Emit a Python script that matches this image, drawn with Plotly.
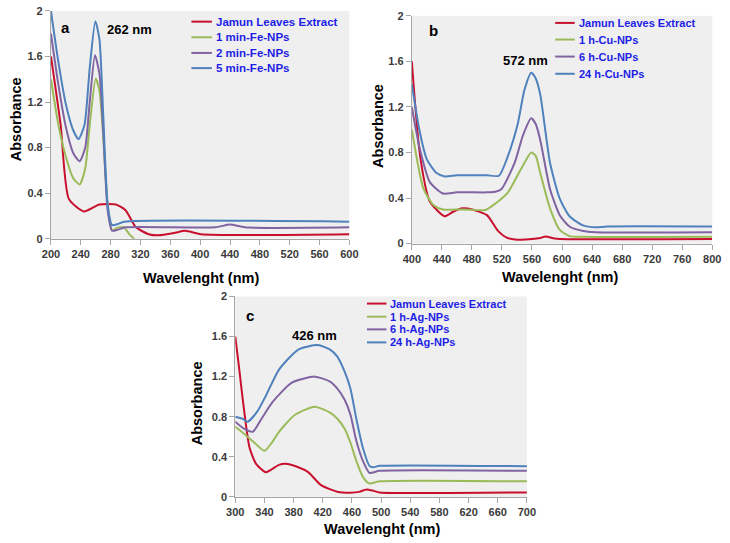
import plotly.graph_objects as go

# ---------------- data ----------------
# Panel a (Fe-NPs)
a_ext_x = [200, 213, 224, 244, 265, 287, 300, 314, 331, 344, 365, 380, 401, 600]
a_ext_y = [1.6, 1.0, 0.35, 0.24, 0.3, 0.3, 0.25, 0.1, 0.04, 0.03, 0.05, 0.07, 0.04, 0.04]
a_1_x = [200, 210, 220, 230, 238.5, 246, 252, 260, 265, 270, 276, 282, 290, 298, 305, 311, 320, 600]
a_1_y = [1.4, 1.0, 0.72, 0.53, 0.477, 0.62, 1.0, 1.406, 1.3, 0.9, 0.3, 0.074, 0.1, 0.1, 0.04, 0.0, -0.1, -0.1]
a_2_x = [200, 210, 220, 230, 238.5, 246, 252, 259, 265, 270, 276, 282, 290, 300, 420, 440, 460, 600]
a_2_y = [1.8, 1.35, 0.98, 0.75, 0.68, 0.8, 1.2, 1.61, 1.45, 0.95, 0.25, 0.07, 0.08, 0.1, 0.1, 0.125, 0.1, 0.1]
a_5_x = [200, 210, 220, 230, 237, 245, 252, 259.5, 265, 270, 276, 282, 290, 298, 600]
a_5_y = [2.0, 1.55, 1.18, 0.95, 0.875, 1.0, 1.5, 1.91, 1.75, 1.1, 0.3, 0.12, 0.13, 0.15, 0.15]

# Panel b (Cu-NPs)
b_ext_x = [400, 411, 424, 443.7, 455, 467.5, 480.5, 500, 515, 527, 537, 545, 560, 571, 578, 590, 597, 800]
b_ext_y = [1.6, 0.77, 0.37, 0.24, 0.28, 0.31, 0.30, 0.25, 0.11, 0.05, 0.037, 0.034, 0.04, 0.05, 0.063, 0.045, 0.04, 0.04]
b_1_x = [400, 408, 415.6, 428.6, 441.6, 470, 498, 511, 528, 545, 559, 565, 571, 584, 597, 610, 625, 800]
b_1_y = [1.0, 0.7, 0.48, 0.34, 0.30, 0.3, 0.295, 0.35, 0.45, 0.65, 0.80, 0.77, 0.62, 0.31, 0.12, 0.066, 0.06, 0.06]
b_6_x = [400, 410, 424, 441.6, 460, 500, 511, 519.5, 537, 548, 559, 565, 571, 584, 597, 610, 628, 645, 800]
b_6_y = [1.2, 0.85, 0.54, 0.44, 0.45, 0.45, 0.455, 0.48, 0.71, 0.95, 1.10, 1.05, 0.91, 0.48, 0.25, 0.15, 0.11, 0.1, 0.1]
b_24_x = [400, 410, 420, 433, 444, 460, 480, 500, 516, 528, 541, 550, 559, 565, 571, 584, 597, 610, 628, 645, 660, 800]
b_24_y = [1.4, 1.0, 0.74, 0.62, 0.59, 0.6, 0.6, 0.6, 0.596, 0.77, 1.05, 1.35, 1.5, 1.45, 1.31, 0.71, 0.395, 0.24, 0.16, 0.143, 0.15, 0.15]

# Panel c (Ag-NPs)
c_ext_x = [300, 306, 310.7, 319.6, 328.5, 342, 360, 368.7, 386.5, 400, 417.7, 440, 458, 470, 480, 490, 498, 700]
c_ext_y = [1.6, 1.24, 0.946, 0.49, 0.33, 0.247, 0.32, 0.33, 0.296, 0.247, 0.117, 0.052, 0.042, 0.05, 0.075, 0.06, 0.045, 0.045]
c_1_x = [300, 312, 324, 340, 350, 360, 382, 409, 430, 440, 450, 458, 466, 475, 484, 498, 700]
c_1_y = [0.7, 0.63, 0.556, 0.46, 0.54, 0.65, 0.82, 0.90, 0.84, 0.78, 0.68, 0.54, 0.36, 0.2, 0.133, 0.155, 0.155]
c_6_x = [300, 312, 324, 336, 351, 377.6, 409, 430, 440, 450, 458, 466, 475, 484, 498, 700]
c_6_y = [0.75, 0.68, 0.65, 0.78, 0.946, 1.14, 1.2, 1.15, 1.08, 0.97, 0.82, 0.56, 0.36, 0.24, 0.26, 0.26]
c_24_x = [300, 310, 317, 330, 342, 360, 386.5, 413, 430, 440, 450, 458, 466, 475, 484, 489, 498, 700]
c_24_y = [0.8, 0.78, 0.75, 0.85, 1.01, 1.27, 1.47, 1.515, 1.47, 1.40, 1.25, 1.08, 0.78, 0.49, 0.31, 0.296, 0.31, 0.306]

a_names = ["Jamun Leaves Extract", "1 min-Fe-NPs", "2 min-Fe-NPs", "5 min-Fe-NPs"]
b_names = ["Jamun Leaves Extract", "1 h-Cu-NPs", "6 h-Cu-NPs", "24 h-Cu-NPs"]
c_names = ["Jamun Leaves Extract", "1 h-Ag-NPs", "6 h-Ag-NPs", "24 h-Ag-NPs"]

y_ticks = [0, 0.4, 0.8, 1.2, 1.6, 2]
y_ticktext = ["0", "0.4", "0.8", "1.2", "1.6", "2"]
a_xticks = list(range(200, 601, 40))
b_xticks = list(range(400, 801, 40))
c_xticks = list(range(300, 701, 40))

colors = ["#C8102E", "#9BBB59", "#8064A2", "#4F81BD"]

W, H = 730, 543
FONT = "Liberation Sans, Arial, sans-serif"


def px_x(p):
    return p / W


def px_y(p):
    return 1 - p / H


fig = go.Figure()

panels = [
    ("x", "y", a_names, [(a_ext_x, a_ext_y), (a_1_x, a_1_y), (a_2_x, a_2_y), (a_5_x, a_5_y)]),
    ("x2", "y2", b_names, [(b_ext_x, b_ext_y), (b_1_x, b_1_y), (b_6_x, b_6_y), (b_24_x, b_24_y)]),
    ("x3", "y3", c_names, [(c_ext_x, c_ext_y), (c_1_x, c_1_y), (c_6_x, c_6_y), (c_24_x, c_24_y)]),
]

for xa, ya, names, series in panels:
    for i, (xs, ys) in enumerate(series):
        fig.add_trace(go.Scatter(
            x=xs, y=ys, mode="lines", name=names[i], showlegend=False,
            line=dict(color=colors[i], width=2, shape="spline", smoothing=0.6),
            xaxis=xa, yaxis=ya,
        ))

tickfont = dict(family=FONT, size=11, color="#3a3a3a", weight="bold")


def xaxis(domain, rng, ticks, anchor):
    return dict(domain=domain, range=rng, tickvals=ticks, ticktext=[str(t) for t in ticks],
                showgrid=False, zeroline=False, showline=True, linecolor="#a6a6a6", linewidth=1,
                ticks="outside", ticklen=5, tickcolor="#a6a6a6", tickfont=tickfont, anchor=anchor)


def yaxis(domain, anchor):
    return dict(domain=domain, range=[0, 2], tickvals=y_ticks, ticktext=y_ticktext,
                showgrid=False, zeroline=False, showline=True, linecolor="#a6a6a6", linewidth=1,
                ticks="outside", ticklen=5, tickcolor="#a6a6a6", tickfont=tickfont, anchor=anchor)


fig.update_layout(
    width=W, height=H,
    margin=dict(l=0, r=0, t=0, b=0),
    paper_bgcolor="white",
    plot_bgcolor="#efefef",
    showlegend=False,
    xaxis=xaxis([px_x(43), px_x(349)], [200, 600], a_xticks, "y"),
    yaxis=yaxis([px_y(238), px_y(5)], "x"),
    xaxis2=xaxis([px_x(413), px_x(721)], [400, 800], b_xticks, "y2"),
    yaxis2=yaxis([px_y(243), px_y(10)], "x2"),
    xaxis3=xaxis([px_x(232), px_x(531)], [300, 700], c_xticks, "y3"),
    yaxis3=yaxis([px_y(502), px_y(297)], "x3"),
)


def ann(text, x, y, font, angle=0, xanchor="center"):
    fig.add_annotation(text=text, x=px_x(x), y=px_y(y), xref="paper", yref="paper",
                       showarrow=False, font=font, textangle=angle, xanchor=xanchor,
                       yanchor="middle")


# manual legends (compact rows like the original)
leg_color = "#1e1ee6"
legends = [
    (a_names, 187, 208, 210, [16, 32, 48, 63.5], 11.5),
    (b_names, 560, 580, 582, [17.3, 34.3, 51.7, 69.3], 11),
    (c_names, 367, 387, 389, [304.3, 317.7, 330.7, 344], 11),
]
for names, lx0, lx1, tx, rows, fs in legends:
    for i, name in enumerate(names):
        fig.add_shape(type="line", xref="paper", yref="paper",
                      x0=px_x(lx0), x1=px_x(lx1), y0=px_y(rows[i]), y1=px_y(rows[i]),
                      line=dict(color=colors[i], width=2))
        ann(name, tx, rows[i], dict(family=FONT, size=fs, color=leg_color, weight="bold"),
            xanchor="left")

ann_font = dict(family=FONT, size=13, color="black", weight="bold")
title_font = dict(family=FONT, size=14.5, color="black", weight="bold")

ann("a", 58, 22, dict(ann_font, size=15))
ann("262 nm", 124, 24, ann_font)
ann("b", 435, 25, dict(ann_font, size=15))
ann("572 nm", 530, 56, ann_font)
ann("c", 247, 317, dict(ann_font, size=15))
ann("426 nm", 313, 337, ann_font)

ann("Absorbance", 8, 116, title_font, -90)
ann("Absorbance", 379, 123, title_font, -90)
ann("Absorbance", 193, 406, title_font, -90)
ann("Wavelenght (nm)", 197, 278, title_font)
ann("Wavelenght (nm)", 565, 277, title_font)
ann("Wavelenght (nm)", 382, 535, title_font)

fig.write_html("out.html", config={"displayModeBar": False},
               post_script="document.body.style.margin='0px';")
